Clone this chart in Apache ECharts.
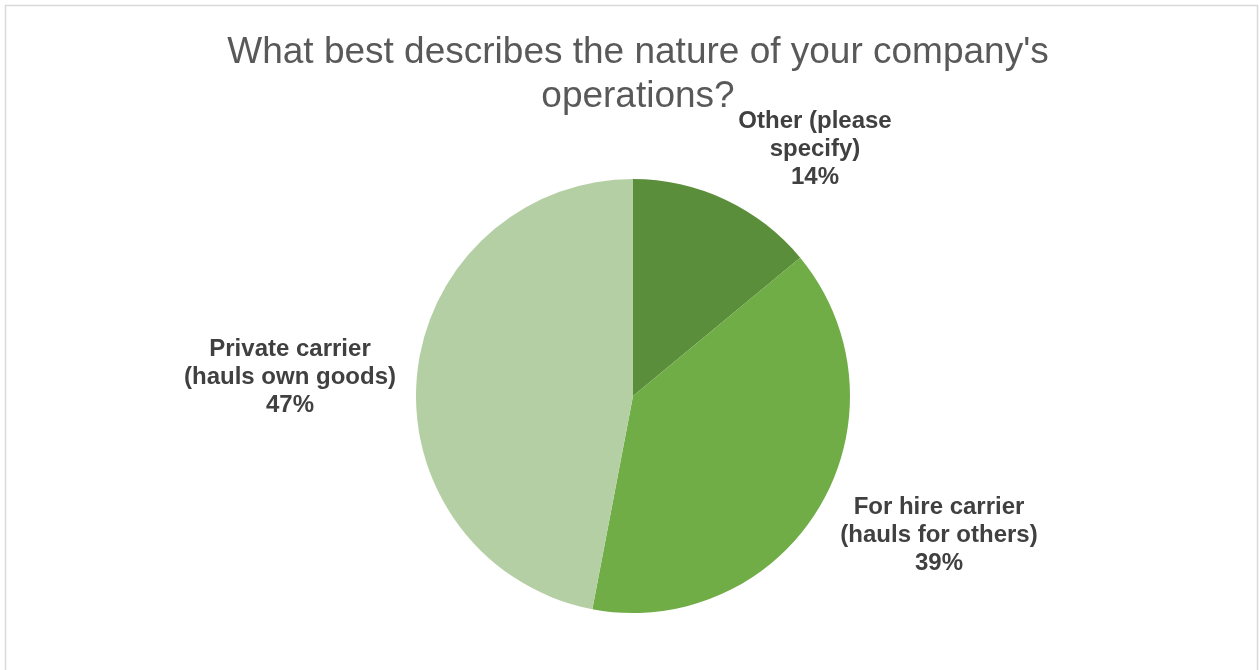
<!DOCTYPE html>
<html>
<head>
<meta charset="utf-8">
<script src="https://cdn.jsdelivr.net/npm/echarts@6/dist/echarts.min.js"></script>
<style>
  html, body { margin: 0; padding: 0; background: #fff; }
  #chart { width: 1259px; height: 670px; }
</style>
</head>
<body>
<div id="chart"></div>
<script>
// Survey responses: nature of company operations
const categories = [
  'Other (please\nspecify)',
  'For hire carrier\n(hauls for others)',
  'Private carrier\n(hauls own goods)'
];
const shares = [14, 39, 47];
const sliceColors = ['#5a8e3a', '#70ad47', '#b5cfa5'];

// Where each data label sits (label centre, px)
const labelSpots = [
  { x: 815, y: 149 },
  { x: 939, y: 535 },
  { x: 290, y: 377 }
];

const chart = echarts.init(document.getElementById('chart'), null, { renderer: 'canvas' });

chart.setOption({
  backgroundColor: '#ffffff',
  animation: false,
  graphic: [{
    type: 'rect',
    shape: { x: 5.5, y: 5.5, width: 1252, height: 700 },
    style: { fill: 'none', stroke: '#d9d9d9', lineWidth: 1.5 },
    silent: true
  }],
  title: {
    text: "What best describes the nature of your company's\noperations?",
    left: 633,
    top: 26,
    textAlign: 'center',
    textStyle: {
      fontFamily: 'Liberation Sans, Arial, sans-serif',
      fontSize: 37,
      fontWeight: 'normal',
      color: '#595959',
      lineHeight: 44,
      align: 'center'
    }
  },
  series: [{
    type: 'pie',
    center: [633, 396],
    radius: 217,
    startAngle: 90,
    clockwise: true,
    avoidLabelOverlap: false,
    itemStyle: { borderWidth: 0 },
    emphasis: { disabled: true },
    label: {
      show: true,
      position: 'outside',
      formatter: '{b}\n{c}%',
      fontFamily: 'Liberation Sans, Arial, sans-serif',
      fontSize: 24,
      fontWeight: 'bold',
      color: '#404040',
      lineHeight: 28,
      align: 'center'
    },
    labelLine: { show: false },
    labelLayout: function (params) {
      const p = labelSpots[params.dataIndex];
      return { x: p.x, y: p.y, align: 'center', verticalAlign: 'middle' };
    },
    data: categories.map(function (name, i) {
      return { name: name, value: shares[i], itemStyle: { color: sliceColors[i] } };
    })
  }]
});
</script>
</body>
</html>
